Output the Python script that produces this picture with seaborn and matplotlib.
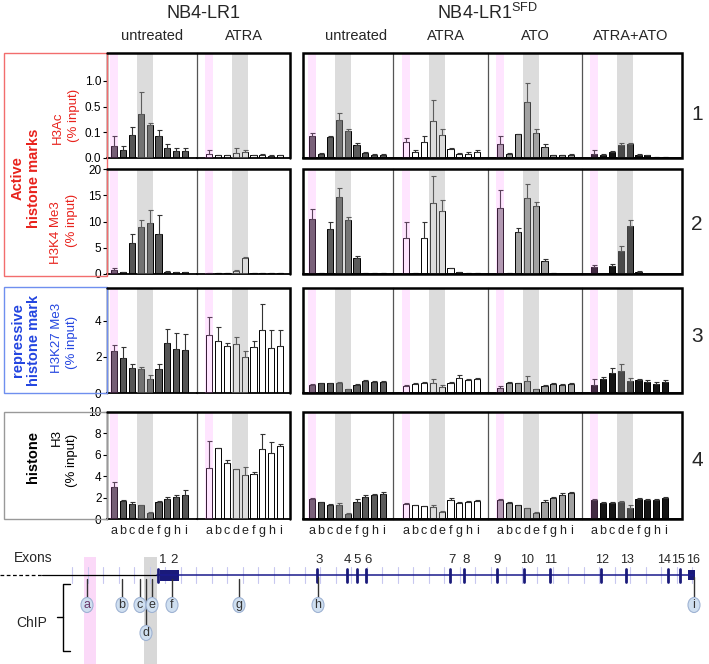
import numpy as np
import pandas as pd
import matplotlib
matplotlib.use('Agg')
import matplotlib.pyplot as plt
from matplotlib.patches import Rectangle, Ellipse
import seaborn as sns

sns.set_style('white')
plt.rcParams['font.family'] = ['Liberation Sans', 'DejaVu Sans']

# ChIP sites and conditions
sites = list('abcdefghi')
conditions = ['untreated', 'ATRA', 'untreated', 'ATRA', 'ATO', 'ATRA+ATO']
cond_colors = ['#555555', '#ffffff', '#5a5a5a', '#ffffff', '#a0a0a0', '#151515']

# H3Ac (% input): rows = NB4-LR1 untr, ATRA, SFD untr, ATRA, ATO, ATRA+ATO
h3ac_vals = [
    [0.048, 0.032, 0.088, 0.38, 0.21, 0.084, 0.04, 0.028, 0.028],
    [0.015, 0.01, 0.01, 0.02, 0.025, 0.01, 0.012, 0.008, 0.01],
    [0.084, 0.016, 0.08, 0.285, 0.115, 0.052, 0.02, 0.012, 0.012],
    [0.064, 0.024, 0.064, 0.27, 0.088, 0.036, 0.016, 0.016, 0.024],
    [0.056, 0.016, 0.092, 0.58, 0.096, 0.044, 0.01, 0.01, 0.012],
    [0.016, 0.012, 0.024, 0.052, 0.056, 0.012, 0.01, 0.004, 0.004],
]
h3ac_sd = [
    [0.036, 0.013, 0.09, 0.41, 0.03, 0.046, 0.015, 0.012, 0.012],
    [0.015, 0.003, 0.003, 0.02, 0.005, 0.002, 0.003, 0.003, 0.003],
    [0.012, 0.002, 0.006, 0.12, 0.03, 0.005, 0.003, 0.002, 0.002],
    [0.012, 0.008, 0.02, 0.35, 0.06, 0.004, 0.003, 0.008, 0.006],
    [0.028, 0.002, 0.003, 0.38, 0.06, 0.012, 0.002, 0.002, 0.003],
    [0.016, 0.002, 0.003, 0.008, 0.004, 0.002, 0.002, 0.001, 0.001],
]

# H3K4 Me3 (% input)
h3k4_vals = [
    [0.8, 0.3, 6.0, 8.9, 9.8, 7.7, 0.4, 0.3, 0.3],
    [0.1, 0.1, 0.1, 0.6, 3.0, 0.2, 0.2, 0.1, 0.1],
    [10.5, 0.2, 8.6, 14.7, 10.2, 3.1, 0.2, 0.15, 0.15],
    [6.9, 0.1, 6.9, 13.5, 12.0, 1.1, 0.3, 0.2, 0.1],
    [12.6, 0.1, 8.0, 14.5, 13.0, 2.5, 0.1, 0.05, 0.05],
    [1.3, 0.05, 1.5, 4.4, 9.1, 0.4, 0.0, 0.0, 0.0],
]
h3k4_sd = [
    [0.4, 0.1, 1.7, 1.4, 2.4, 3.5, 0.1, 0.05, 0.05],
    [0.05, 0.05, 0.05, 0.2, 0.3, 0.05, 0.05, 0.05, 0.05],
    [1.9, 0.05, 1.3, 1.7, 0.7, 0.4, 0.05, 0.05, 0.05],
    [3.0, 0.05, 3.0, 5.2, 2.1, 0.1, 0.1, 0.05, 0.05],
    [3.4, 0.05, 0.8, 2.6, 0.7, 0.3, 0.05, 0.0, 0.0],
    [0.5, 0.0, 0.4, 1.0, 1.1, 0.1, 0.0, 0.0, 0.0],
]

# H3K27 Me3 (% input)
h3k27_vals = [
    [2.3, 1.95, 1.4, 1.3, 0.75, 1.3, 2.75, 2.45, 2.4],
    [3.2, 2.85, 2.6, 2.7, 2.0, 2.55, 3.5, 2.5, 2.6],
    [0.44, 0.55, 0.55, 0.55, 0.2, 0.45, 0.65, 0.6, 0.6],
    [0.4, 0.5, 0.55, 0.55, 0.35, 0.55, 0.85, 0.7, 0.75],
    [0.25, 0.55, 0.55, 0.65, 0.2, 0.4, 0.5, 0.45, 0.5],
    [0.45, 0.75, 1.1, 1.2, 0.65, 0.7, 0.6, 0.5, 0.6],
]
h3k27_sd = [
    [0.35, 0.6, 0.2, 0.15, 0.25, 0.3, 0.8, 0.85, 0.85],
    [1.0, 0.8, 0.15, 0.4, 0.3, 0.35, 1.4, 1.0, 0.9],
    [0.03, 0.03, 0.03, 0.05, 0.02, 0.03, 0.05, 0.04, 0.04],
    [0.05, 0.08, 0.05, 0.2, 0.08, 0.08, 0.15, 0.1, 0.1],
    [0.15, 0.05, 0.03, 0.3, 0.03, 0.03, 0.06, 0.05, 0.05],
    [0.35, 0.15, 0.3, 0.4, 0.2, 0.1, 0.1, 0.1, 0.1],
]

# H3 (% input)
h3_vals = [
    [3.0, 1.7, 1.4, 1.3, 0.6, 1.6, 1.9, 2.1, 2.2],
    [4.75, 6.6, 5.2, 4.65, 4.1, 4.2, 6.5, 6.2, 6.8],
    [1.9, 1.55, 1.35, 1.3, 0.5, 1.6, 2.1, 2.2, 2.3],
    [1.4, 1.3, 1.2, 1.1, 0.7, 1.8, 1.5, 1.6, 1.7],
    [1.8, 1.5, 1.3, 1.0, 0.6, 1.6, 2.0, 2.2, 2.4],
    [1.8, 1.5, 1.5, 1.6, 1.0, 1.9, 1.8, 1.8, 2.0],
]
h3_sd = [
    [0.5, 0.05, 0.2, 0.05, 0.1, 0.05, 0.2, 0.1, 0.5],
    [2.5, 0.05, 0.3, 0.05, 0.8, 0.15, 1.4, 1.0, 0.2],
    [0.05, 0.05, 0.05, 0.2, 0.05, 0.3, 0.1, 0.1, 0.2],
    [0.05, 0.05, 0.05, 0.2, 0.05, 0.2, 0.05, 0.1, 0.05],
    [0.05, 0.05, 0.05, 0.05, 0.05, 0.2, 0.1, 0.2, 0.1],
    [0.1, 0.05, 0.05, 0.05, 0.3, 0.05, 0.05, 0.05, 0.1],
]

# gene map (x positions in px along the drawn locus)
exon_labels = ['1', '2', '3', '4', '5', '6', '7', '8', '9', '10', '11', '12', '13', '14', '15', '16']
exon_pos = [158, 170, 317, 347, 357, 366, 450, 464, 497, 524, 550, 601, 626, 668, 680, 691]
exon_label_pos = [163, 174, 319, 347, 357, 368, 452, 466, 497, 527, 551, 602, 627, 664, 678, 693]
chip_pos = [87, 122, 140, 146, 152, 172, 239, 318, 694]

W, H = 709, 664
fig = plt.figure(figsize=(W / 100, H / 100), dpi=100)


def rect(x0, x1, y0, y1):
    return [x0 / W, 1 - y1 / H, (x1 - x0) / W, (y1 - y0) / H]


panel_x = [(107, 197), (197, 290), (303, 393), (393, 488), (488, 582), (582, 682)]
a_px = [114, 209, 312, 406, 500, 594]
row_y = [(53, 158), (169, 274), (288, 393), (412, 519)]
step = 8.9

seg_v = [0, 0.1, 0.5, 1.0, 2.0]
seg_u = [0, 1, 2, 3, 5]


def fwd(y):
    return np.interp(y, seg_v, seg_u)


def inv(u):
    return np.interp(u, seg_u, seg_v)


rows = [
    (h3ac_vals, h3ac_sd, 1.54, [0, 0.1, 0.5, 1.0], ['0.0', '0.1', '0.5', '1.0']),
    (h3k4_vals, h3k4_sd, 20, [0, 5, 10, 15, 20], ['0', '5', '10', '15', '20']),
    (h3k27_vals, h3k27_sd, 5.8, [0, 2, 4], ['0', '2', '4']),
    (h3_vals, h3_sd, 10, [0, 2, 4, 6, 8, 10], ['0', '2', '4', '6', '8', '10']),
]

for r, (vals, sds, ymax, yt, ytl) in enumerate(rows):
    y0, y1 = row_y[r]
    for p in range(6):
        x0, x1 = panel_x[p]
        ax = fig.add_axes(rect(x0, x1, y0, y1))
        df = pd.DataFrame({'site': sites, 'val': vals[p], 'sd': sds[p]})
        if r == 0:
            ax.set_yscale('function', functions=(fwd, inv))
        sns.barplot(data=df, x='site', y='val', color=cond_colors[p], saturation=1,
                    edgecolor='black', linewidth=0.7, width=0.68, ax=ax, zorder=2)
        ax.errorbar(np.arange(9), df['val'], yerr=[np.zeros(9), df['sd']], fmt='none',
                    ecolor='#333333', elinewidth=0.8, capsize=1.8, capthick=0.8, zorder=2)
        ax.axvspan(-0.45, 0.45, color='#ff80ff', alpha=0.2, lw=0, zorder=4)
        ax.axvspan(2.62, 4.38, color='#a3a3a3', alpha=0.38, lw=0, zorder=4)
        ax.set_xlim((x0 - a_px[p]) / step, (x1 - a_px[p]) / step)
        ax.set_ylim(0, ymax)
        ax.set_xlabel('')
        ax.set_ylabel('')
        for s in ['top', 'right']:
            ax.spines[s].set_visible(False)
        ax.spines['bottom'].set_color('black')
        ax.spines['bottom'].set_linewidth(1.3)
        ax.set_xticks(range(9))
        ax.set_xticks([4], minor=True)
        ax.tick_params(axis='x', which='major', length=0, pad=4, labelsize=9, colors='#222222')
        ax.tick_params(axis='x', which='minor', length=3, width=1, color='black', direction='out')
        if r < 3:
            ax.set_xticklabels([''] * 9)
        else:
            ax.set_xticklabels(sites)
        if p == 0:
            ax.spines['left'].set_color('black')
            ax.spines['left'].set_linewidth(1.0)
            ax.set_yticks(yt)
            ax.set_yticklabels(ytl)
            ax.tick_params(axis='y', direction='out', length=3, width=0.8, labelsize=8.5, pad=1,
                           left=True, colors='black')
        else:
            ax.set_yticks([])
            if p == 2:
                ax.spines['left'].set_visible(False)
            else:
                ax.spines['left'].set_color('#555555')
                ax.spines['left'].set_linewidth(0.9)

# overlay canvas in pixel coordinates
ov = fig.add_axes([0, 0, 1, 1], zorder=10)
ov.set_xlim(0, W)
ov.set_ylim(H, 0)
ov.axis('off')
ov.patch.set_visible(False)

for (y0, y1) in row_y:
    ov.plot([107, 290, 290], [y0, y0, y1], color='black', lw=1.8, solid_joinstyle='miter')
    ov.add_patch(Rectangle((303, y0), 379, y1 - y0, fill=False, ec='black', lw=1.8))

# group boxes on the left
ov.add_patch(Rectangle((4, 53), 103, 223, fill=False, ec='#f26d6d', lw=1))
ov.add_patch(Rectangle((4, 287), 103, 106, fill=False, ec='#6f8fef', lw=1))
ov.add_patch(Rectangle((4, 412), 103, 107, fill=False, ec='#999999', lw=1))

red = '#e8221c'
blue = '#2345e0'
ov.text(26, 178, 'Active\nhistone marks', rotation=90, ha='center', va='center', color=red,
        fontsize=10.5, fontweight='bold', linespacing=1.2, multialignment='center')
ov.text(26, 340, 'repressive\nhistone mark', rotation=90, ha='center', va='center', color=blue,
        fontsize=10.5, fontweight='bold', linespacing=1.2, multialignment='center')
ov.text(33, 457, 'histone', rotation=90, ha='center', va='center', color='black',
        fontsize=10.5, fontweight='bold')

lab_kw = dict(rotation=90, ha='center', va='center', fontsize=9.5)
ov.text(58, 128, 'H3Ac', color=red, **lab_kw)
ov.text(74, 115, '(% input)', color=red, **lab_kw)
ov.text(56, 233, 'H3K4 Me3', color=red, **lab_kw)
ov.text(72, 220, '(% input)', color=red, **lab_kw)
ov.text(57, 338, 'H3K27 Me3', color=blue, **lab_kw)
ov.text(72, 342, '(% input)', color=blue, **lab_kw)
ov.text(57, 437, 'H3', color='black', **lab_kw)
ov.text(72, 460, '(% input)', color='black', **lab_kw)

for i, yy in enumerate([114, 225, 336, 461]):
    ov.text(697, yy, str(i + 1), ha='center', va='center', fontsize=15)

# titles
narrow = ['Liberation Sans Narrow', 'Liberation Sans', 'DejaVu Sans']
ov.text(204, 13, 'NB4-LR1', ha='center', va='center', fontsize=13)
ov.text(487, 13, 'NB4-LR1$^{\\mathregular{SFD}}$', ha='center', va='center', fontsize=13)
for xx, name in zip([152, 244, 356, 446, 535, 631], conditions):
    ov.text(xx, 36, name, ha='center', va='center', fontsize=10.5, family=narrow)

# gene diagram
ly = 575
ov.add_patch(Rectangle((84, 557), 12, 107, color='#fbd9f8', lw=0, zorder=0))
ov.add_patch(Rectangle((144, 557), 13, 107, color='#d8d8d8', lw=0, zorder=0))
ov.text(14, 558, 'Exons', ha='left', va='center', fontsize=10)
ov.plot([0, 42], [ly, ly], color='black', lw=0.9, ls=(0, (3, 2)))
ov.plot([42, 157], [ly, ly], color='black', lw=0.9)
ov.plot([157, 693], [ly, ly], color='#1a1a8c', lw=1.1)
for tx in np.arange(72, 706, 15.5):
    ov.plot([tx, tx], [567, 583], color='#c8c8f0', lw=0.8, zorder=0)
for i, (ex, lab, lx) in enumerate(zip(exon_pos, exon_labels, exon_label_pos)):
    if lab == '2':
        ov.add_patch(Rectangle((160, 570), 19, 11, color='#1a1a7a', lw=0))
    elif lab == '16':
        ov.add_patch(Rectangle((688, 570), 7, 10, color='#1a1a7a', lw=0))
    else:
        ov.plot([ex, ex], [569, 582], color='#1a1a7a', lw=2)
    ov.text(lx, 560, lab, ha='center', va='center', fontsize=9.5 if len(lab) == 1 else 9)

for s, cx in zip(sites, chip_pos):
    cy = 633 if s == 'd' else 605
    top = 577 if s in 'hi' else 579
    ov.plot([cx, cx], [top, cy - 7], color='#333333', lw=1)
    ov.add_patch(Ellipse((cx, cy), 12, 15, fc='#cfdff0', ec='#9fb3d3', lw=0.8, zorder=3))
    ov.text(cx, cy, s, ha='center', va='center', fontsize=9,
            color='#6a3a6a' if s == 'a' else '#333333', zorder=4)

ov.text(16, 623, 'ChIP', ha='left', va='center', fontsize=10)
ov.plot([70, 63, 63, 70], [584, 584, 651, 651], color='black', lw=1)
ov.plot([57, 63], [617, 617], color='black', lw=1)

fig.savefig('out.png', dpi=100)
